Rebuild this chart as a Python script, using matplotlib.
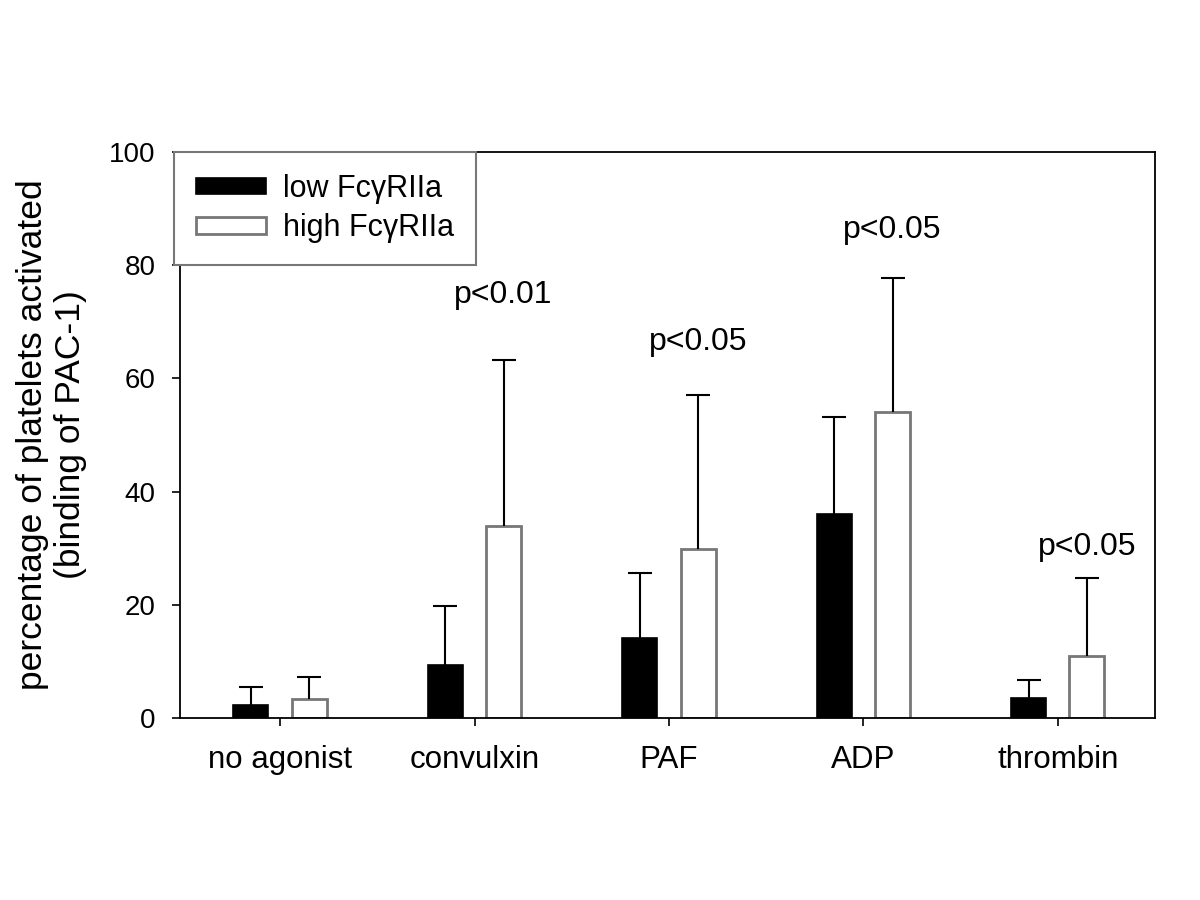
import matplotlib
matplotlib.use("Agg")
import matplotlib.pyplot as plt
import numpy as np

categories = ["no agonist", "convulxin", "PAF", "ADP", "thrombin"]
low_vals = [2.3, 9.4, 14.1, 36.0, 3.5]
low_err = [3.1, 10.4, 11.5, 17.2, 3.2]
high_vals = [3.3, 34.0, 29.8, 54.0, 11.0]
high_err = [4.0, 29.2, 27.3, 23.7, 13.7]
p_labels = ["p<0.01", "p<0.05", "p<0.05", "p<0.05"]
p_cat = [1, 2, 3, 4]
p_y = [74.7, 66.4, 86.3, 30.2]

plt.rcParams['font.family'] = ['Liberation Sans', 'DejaVu Sans']

fig = plt.figure(figsize=(12, 9), dpi=100)
ax = fig.add_axes([0.15, 0.2022, 0.8125, 0.6289])

x = np.arange(len(categories))
w = 0.18
off = 0.15
b1 = ax.bar(x - off, low_vals, w, color='black', edgecolor='black', linewidth=1.2,
            yerr=[np.zeros(5), low_err], capsize=8.5,
            error_kw=dict(ecolor='black', elinewidth=1.5, capthick=1.5),
            label="low Fc\u03b3RIIa", zorder=2)
b2 = ax.bar(x + off, high_vals, w, color='white', edgecolor='#777777', linewidth=2,
            yerr=[np.zeros(5), high_err], capsize=8.5,
            error_kw=dict(ecolor='black', elinewidth=1.5, capthick=1.5),
            label="high Fc\u03b3RIIa", zorder=2)
# hide lower caps (error bars are one-sided)
for bc in (b1, b2):
    caps = bc.errorbar.lines[1]
    if len(caps) >= 2:
        caps[0].set_visible(False)

for lab, c, yv in zip(p_labels, p_cat, p_y):
    ax.text(c + off, yv, lab, ha='center', va='center', fontsize=23)

ax.set_xlim(-0.515, 4.5)
ax.set_ylim(0, 100)
ax.set_yticks([0, 20, 40, 60, 80, 100])
ax.set_xticks(x)
ax.set_xticklabels(categories)
ax.tick_params(axis='both', direction='out', width=1.2, length=5.5, colors='black')
ax.tick_params(axis='x', labelsize=22.5, pad=14)
ax.tick_params(axis='y', labelsize=20, pad=12)
for s in ax.spines.values():
    s.set_linewidth(1.3)
    s.set_color('black')

ax.set_ylabel("percentage of platelets activated\n(binding of PAC-1)", fontsize=25.5, labelpad=16)

leg = ax.legend(loc='upper left', bbox_to_anchor=(-0.0065, 1.0), fontsize=22,
                frameon=True, fancybox=False, handlelength=2.3, handleheight=0.46,
                borderpad=0.72, labelspacing=0.3, handletextpad=0.55, borderaxespad=0)
leg.get_frame().set_edgecolor('#777777')
leg.get_frame().set_linewidth(1.5)
leg.get_frame().set_alpha(1)

fig.savefig("out.png", dpi=100)
